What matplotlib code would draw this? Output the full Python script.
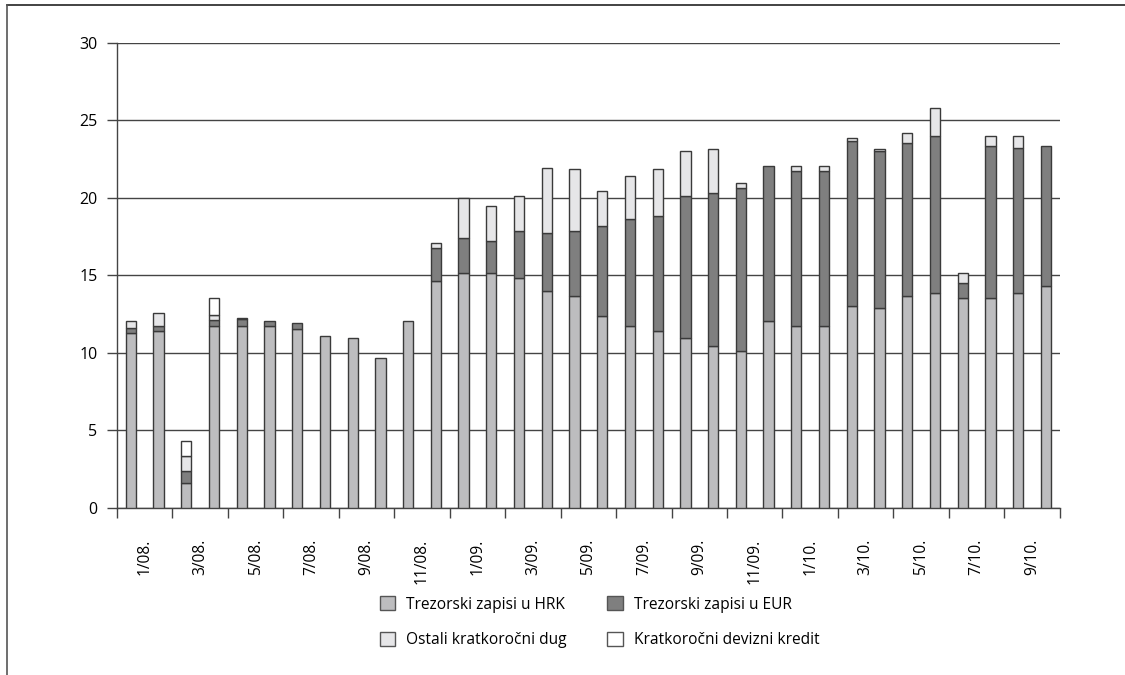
import numpy as np
import matplotlib
matplotlib.use('Agg')
import matplotlib.pyplot as plt
from matplotlib.lines import Line2D

plt.rcParams['font.family'] = ['Open Sans', 'DejaVu Sans']

# categories: month/year, two bars per label
cats = ['%d/%02d.' % (m, y) for y in (8, 9, 10) for m in range(1, 13)][:34]
tick_labels = cats[::2]

hrk = [11.27, 11.44, 1.61, 11.74, 11.74, 11.74, 11.57, 11.12, 10.95, 9.66, 12.08, 14.65,
       15.14, 15.14, 14.82, 14.0, 13.7, 12.39, 11.74, 11.44, 10.95, 10.47, 10.15, 12.08,
       11.76, 11.76, 13.03, 12.88, 13.68, 13.85, 13.53, 13.53, 13.85, 14.32]
eur = [0.36, 0.32, 0.8, 0.39, 0.43, 0.34, 0.37, 0, 0, 0, 0, 2.1,
       2.26, 2.11, 3.07, 3.72, 4.19, 5.8, 6.93, 7.4, 9.18, 9.83, 10.48, 10.0,
       10.0, 10.0, 10.65, 10.15, 9.85, 10.15, 0.96, 9.82, 9.35, 9.03]
ostali = [0.45, 0.82, 0.97, 0.3, 0, 0, 0, 0, 0, 0, 0, 0.33,
          2.58, 2.25, 2.26, 4.19, 4.01, 2.26, 2.77, 3.06, 2.9, 2.88, 0.32, 0,
          0.3, 0.3, 0.17, 0.15, 0.64, 1.78, 0.65, 0.67, 0.82, 0]
kredit = [0, 0, 0.96, 1.1, 0.09, 0, 0, 0, 0, 0, 0, 0,
          0, 0, 0, 0, 0, 0, 0, 0, 0, 0, 0, 0,
          0, 0, 0, 0, 0, 0, 0, 0, 0, 0]

series = [
    ('Trezorski zapisi u HRK', hrk, '#bdbdbf'),
    ('Trezorski zapisi u EUR', eur, '#7f7f7f'),
    ('Ostali kratkoročni dug', ostali, '#e6e6e8'),
    ('Kratkoročni devizni kredit', kredit, '#ffffff'),
]

fig = plt.figure(figsize=(11.25, 6.75), dpi=100)
ax = fig.add_axes([0.104, 0.2474, 0.838, 0.689])

x = np.arange(len(cats))
bottom = np.zeros(len(cats))
handles = []
for name, vals, col in series:
    vals = np.array(vals)
    mask = vals > 0
    ax.bar(x[mask], vals[mask], 0.37, bottom=bottom[mask], color=col,
           edgecolor='#3a3a3a', linewidth=1.0, zorder=3)
    handles.append(plt.Rectangle((0, 0), 1, 1, facecolor=col, edgecolor='#555555', linewidth=1.0))
    bottom += vals

ax.set_xlim(-0.5, len(cats) - 0.5)
ax.set_ylim(0, 30)
ax.set_yticks(range(0, 31, 5))
ax.grid(axis='y', color='#444444', linewidth=1.0, zorder=0)
for s in ('top', 'right'):
    ax.spines[s].set_visible(False)
for s in ('left', 'bottom'):
    ax.spines[s].set_color('#444444')
    ax.spines[s].set_linewidth(1.0)

ax.set_xticks(np.arange(-0.5, len(cats), 2))
ax.set_xticklabels([])
ax.set_xticks(np.arange(0.5, len(cats), 2), minor=True)
ax.set_xticklabels(tick_labels, minor=True, rotation=90, fontsize=11.2)
ax.tick_params(axis='x', which='major', length=7, color='#444444', width=1)
ax.tick_params(axis='x', which='minor', length=0, pad=22)
ax.tick_params(axis='y', length=7, color='#444444', width=1, pad=7, labelsize=11.5)

order = [0, 2, 1, 3]
fig.legend([handles[i] for i in order], [series[i][0] for i in order],
           loc='center', bbox_to_anchor=(0.533, 0.078), ncol=2, frameon=False,
           fontsize=11.2, handlelength=1.0, handleheight=1.0, handletextpad=0.7,
           columnspacing=2.6, labelspacing=1.25)

# outer frame lines (top and left)
fig.add_artist(Line2D([0.006, 1.0], [0.993, 0.993], color='#222222', lw=1.2, transform=fig.transFigure))
fig.add_artist(Line2D([0.006, 0.006], [0.0, 0.993], color='#555555', lw=1.2, transform=fig.transFigure))

fig.savefig('out.png', dpi=100)
